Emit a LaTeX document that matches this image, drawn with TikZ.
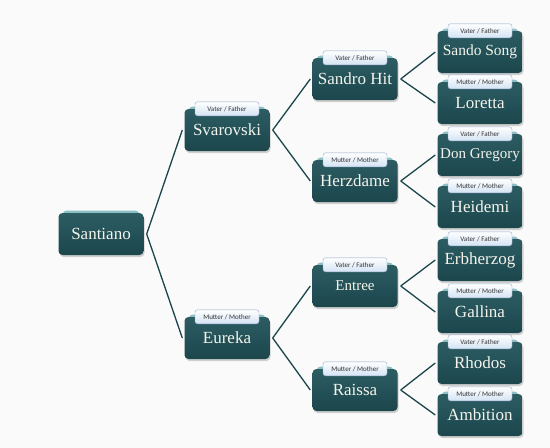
\documentclass[tikz,border=0pt]{standalone}
\usepackage{fontspec}
\setmainfont{Liberation Serif}
\newfontfamily\tabfont{Carlito}
\usetikzlibrary{shadows}
\definecolor{paper}{HTML}{FAFAFA}
\definecolor{horsetop}{HTML}{2C5D63}
\definecolor{horsebot}{HTML}{1B464C}
\definecolor{bevel}{HTML}{8BBFC3}
\definecolor{horsetext}{HTML}{F4F4EC}
\definecolor{tabbot}{HTML}{D5E3F4}
\definecolor{tabedge}{HTML}{93AACB}
\definecolor{linkcol}{HTML}{1A454B}

\begin{document}
\begin{tikzpicture}[
    x=1pt, y=-1pt,
    horse/.style={rounded corners=4pt, minimum width=85pt, minimum height=42pt, inner sep=1pt,
        top color=horsetop, bottom color=horsebot, text=horsetext,
        font=\fontsize{17}{20}\selectfont,
        drop shadow={shadow xshift=1pt, shadow yshift=-2pt, opacity=0.35},
        general shadow={fill=bevel, shadow scale=0.9, shadow yshift=5pt}},
    tab/.style={draw=tabedge, rounded corners=2.5pt, minimum width=64pt, minimum height=14pt,
        inner sep=0pt, top color=white, bottom color=tabbot, text=black!80,
        font=\tabfont\fontsize{7}{8}\selectfont},
    link/.style={draw=linkcol, line width=1.3pt}
]

% Hintergrund
\fill[paper] (0,0) rectangle (550,448);

% Pferd
\node[horse] (santiano) at (101,234) {Santiano};

% Eltern
\node[horse] (svarovski) at (227,130) {Svarovski};
\node[horse] (eureka) at (227,338) {Eureka};

% Großeltern
\node[horse] (sandrohit) at (355,79) {Sandro Hit};
\node[horse] (herzdame) at (355,181) {Herzdame};
\node[horse, font=\fontsize{15}{18}\selectfont] (entree) at (355,286) {Entree};
\node[horse] (raissa) at (355,390) {Raissa};

% Urgroßeltern
\foreach \name/\txt/\y/\fs in {sandosong/Sando Song/52/15.5, loretta/Loretta/103/17,
    dongregory/Don Gregory/155/15, heidemi/Heidemi/207/17, erbherzog/Erbherzog/260/17,
    gallina/Gallina/312/17, rhodos/Rhodos/363/17, ambition/Ambition/415/17} {
    \node[horse, font=\fontsize{\fs}{20}\selectfont] (\name) at (480,\y) {\txt};
}

% Reiter
\foreach \name in {svarovski, sandrohit, entree, sandosong, dongregory, erbherzog, rhodos}
    \node[tab] (\name-tab) at (\name.north) {Vater / Father};
\foreach \name in {eureka, herzdame, raissa, loretta, heidemi, gallina, ambition}
    \node[tab] (\name-tab) at (\name.north) {Mutter / Mother};

% Linien
\foreach \a/\b in {santiano/svarovski, santiano/eureka,
    svarovski/sandrohit, svarovski/herzdame, eureka/entree, eureka/raissa,
    sandrohit/sandosong, sandrohit/loretta, herzdame/dongregory, herzdame/heidemi,
    entree/erbherzog, entree/gallina, raissa/rhodos, raissa/ambition}
    \draw[link] ([xshift=3pt]\a.east) -- ([xshift=-2pt]\b.west);

\end{tikzpicture}
\end{document}
